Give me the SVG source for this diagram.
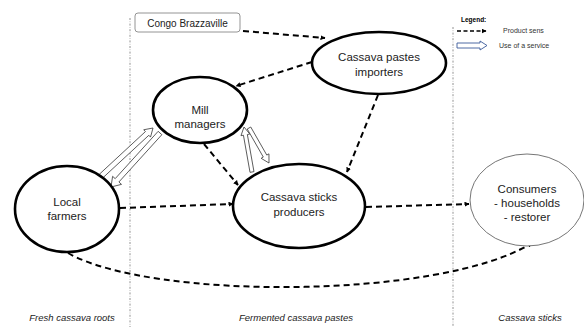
<svg xmlns="http://www.w3.org/2000/svg" width="584" height="327" viewBox="0 0 584 327">
<defs>
<marker id="ah" viewBox="0 0 10 10" refX="9" refY="5" markerWidth="5" markerHeight="5" orient="auto" markerUnits="userSpaceOnUse">
<path d="M0,0 L10,5 L0,10 z" fill="#000"/>
</marker>
</defs>
<style>
.sep{stroke:#777;stroke-width:0.8;stroke-dasharray:2,1.5,0.6,1.5;fill:none}
.node{fill:#fff;stroke:#000;stroke-width:2.6}
.thin{fill:#fff;stroke:#666;stroke-width:0.9}
.t{font-family:"Liberation Sans",Arial,sans-serif;font-size:11.5px;fill:#222;text-anchor:middle}
.it{font-family:"Liberation Sans",Arial,sans-serif;font-size:9.5px;font-style:italic;fill:#222;text-anchor:middle}
.flow{fill:none;stroke:#000;stroke-width:2;stroke-dasharray:6,4;marker-end:url(#ah)}
.hol{fill:#fff;stroke:#333;stroke-width:0.8;stroke-linejoin:miter}
.lg{font-family:"Liberation Sans",Arial,sans-serif;font-size:7px;fill:#333}
</style>
<rect width="584" height="327" fill="#fff"/>
<g id="separators">
<line class="sep" x1="130" y1="18" x2="130" y2="327"/>
<line class="sep" x1="453" y1="27" x2="453" y2="327"/>
</g>
<g id="connectors">
<path class="flow" d="M243,31 L325,38"/>
<path class="flow" d="M312,62 L236,86"/>
<path class="flow" d="M378,95 L347,172"/>
<path class="flow" d="M204,144 L238,185"/>
<path class="flow" d="M120,208 L233,204"/>
<path class="flow" d="M366,207 L469,204"/>
<path class="flow" d="M68,253 C150,300 440,300 532,243"/>
<polygon class="hol" points="100.7,179.84 148.83,135.27 150.53,137.1 153,128 143.73,129.76 145.43,131.59 97.3,176.16"/>
<polygon class="hol" points="158.15,131.32 115.2,178.65 112.6,176.3 111,187 121.5,184.36 118.9,182.01 161.85,134.68"/>
<polygon class="hol" points="253.97,171.65 247.37,134.53 249.83,134.09 244,127 240.97,135.67 243.43,135.23 250.03,172.35"/>
<polygon class="hol" points="247.26,128.99 263.29,157.05 261.12,158.29 269,163 268.94,153.83 266.77,155.07 250.74,127.01"/>
</g>
<g id="congo">
<rect x="135" y="13" width="105" height="19" rx="3" fill="#fff" stroke="#888" stroke-width="0.9"/>
<text class="t" x="187.5" y="26.5" style="font-size:10px">Congo Brazzaville</text>
</g>
<g id="importers">
<ellipse class="node" cx="379" cy="63" rx="67" ry="31"/>
<text class="t" x="379" y="61">Cassava pastes</text>
<text class="t" x="379" y="76">importers</text>
</g>
<g id="mill">
<ellipse class="node" cx="200" cy="110" rx="47" ry="33"/>
<text class="t" x="200" y="114">Mill</text>
<text class="t" x="200" y="128">managers</text>
</g>
<g id="farmers">
<ellipse class="node" cx="67" cy="209" rx="52" ry="43"/>
<text class="t" x="67" y="206">Local</text>
<text class="t" x="67" y="220">farmers</text>
</g>
<g id="producers">
<ellipse class="node" cx="299" cy="206" rx="66" ry="42"/>
<text class="t" x="299" y="201">Cassava sticks</text>
<text class="t" x="299" y="216">producers</text>
</g>
<g id="consumers">
<ellipse class="thin" cx="527" cy="200" rx="57" ry="46"/>
<text class="t" x="527" y="193">Consumers</text>
<text class="t" x="527" y="207">- households</text>
<text class="t" x="527" y="221">- restorer</text>
</g>
<g id="legend">
<text x="461" y="22" class="lg" style="font-weight:bold;font-size:6.5px;fill:#000">Legend:</text>
<path d="M457,31 L486,31" fill="none" stroke="#000" stroke-width="1.3" stroke-dasharray="4,2.5" marker-end="url(#ah)"/>
<text x="503" y="33" class="lg">Product sens</text>
<polygon points="457,43 480,43 480,41 487,45.5 480,50 480,48 457,48" fill="#fff" stroke="#3b5a9a" stroke-width="0.9"/>
<text x="499" y="48" class="lg">Use of a service</text>
</g>
<g id="zones">
<text class="it" x="72" y="321">Fresh cassava roots</text>
<text class="it" x="296" y="321">Fermented cassava pastes</text>
<text class="it" x="530" y="321">Cassava sticks</text>
</g>
</svg>
